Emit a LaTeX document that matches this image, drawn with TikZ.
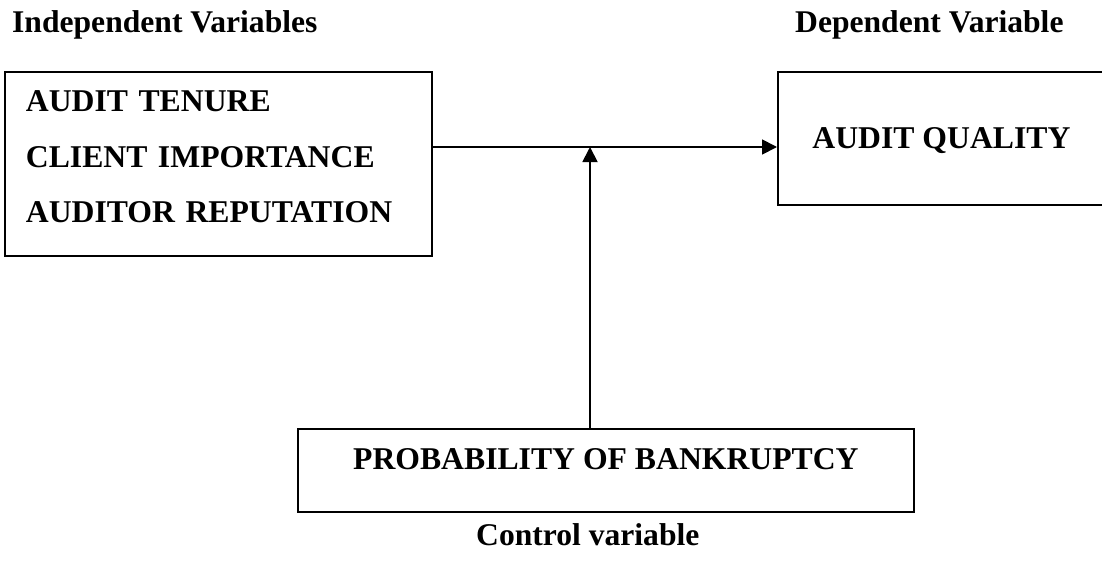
\documentclass[tikz,border=0pt]{standalone}
\usepackage{fontspec}
\setmainfont{Liberation Serif}
\usetikzlibrary{arrows.meta}
\begin{document}
\begin{tikzpicture}[x=1pt,y=-1pt,
  box/.style={draw, line width=1.8pt, inner sep=0pt, font=\fontsize{31.7}{55.5}\selectfont\bfseries},
  head/.style={inner sep=0pt, anchor=base west, font=\fontsize{31.6}{38}\selectfont\bfseries},
  arr/.style={line width=1.8pt, -{Triangle[length=15pt,width=15pt]}}]
\useasboundingbox (0,0) rectangle (1102,560);
\node[head] (ivh) at (12,32) {Independent Variables};
\node[head] (dvh) at (795,32) {Dependent Variable};
\node[head] (cvh) at (476,545) {Control variable};
\node[box, anchor=north west, text width=385pt, inner xsep=21pt, align=left,
      text height=40pt, text depth=144pt] (iv) at (4,71)
      {AUDIT TENURE\\CLIENT IMPORTANCE\\AUDITOR REPUTATION};
\node[box, anchor=north west, minimum width=327pt, text height=77pt, text depth=56pt] (dv) at (777,71) {AUDIT QUALITY};
\node[box, anchor=north west, minimum width=616pt, text height=41pt, text depth=42pt] (cv) at (297,428) {PROBABILITY OF BANKRUPTCY};
\coordinate (j) at (590,147);
\draw[arr] (iv.east |- j) -- (dv.west |- j);
\draw[arr] (cv.north -| j) -- (j);
\end{tikzpicture}
\end{document}
